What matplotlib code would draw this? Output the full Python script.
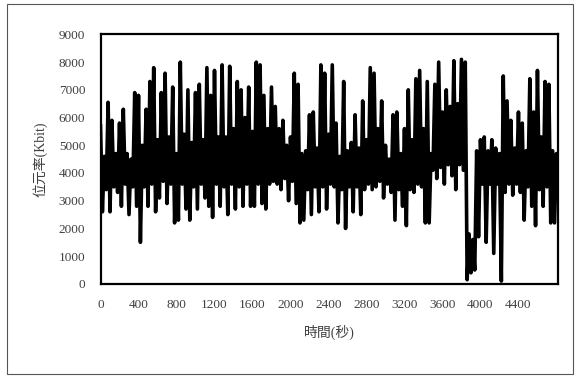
import matplotlib
matplotlib.use("Agg")
import matplotlib.pyplot as plt
import numpy as np
from matplotlib.patches import Rectangle

plt.rcParams['font.family'] = ['Liberation Serif', 'Noto Sans CJK TC']

# spacing of the envelope readings (seconds)
STEP = 40

# local maxima, one every 40 s starting at t=0
peaks = [5700, 4600, 6550, 5900, 4700, 5800, 6300, 4700, 4500, 6900,
         6800, 5000, 6300, 7300, 7800, 5200, 6900, 7600, 5300, 7100,
         4700, 8000, 5400, 7000, 5100, 6900, 7200, 5200, 7800, 6800,
         7700, 5300, 7900, 5300, 7850, 5600, 7300, 7000, 6000, 7100,
         5500, 8000, 7900, 6800, 5600, 7100, 6400, 5600, 5900, 5000,
         5300, 7600, 7200, 4700, 4800, 6100, 6200, 4900, 7900, 7600,
         5400, 7900, 5800, 4600, 7300, 4800, 5100, 6100, 4900, 6600,
         5200, 7800, 7600, 5600, 6600, 5000, 4500, 6100, 6200, 4700,
         5600, 7000, 5200, 7400, 7700, 5600, 7300, 4700, 7200, 8000,
         6200, 7000, 6400, 8050, 6500, 8100, 8000, 1800, 1600, 4800,
         5200, 5300, 4800, 5200, 4900, 4700, 7500, 6600, 5900, 4900,
         6200, 5800, 4800, 7400, 6200, 7700, 5300, 7300, 7200, 4800,
         4700]

# local minima, one every 40 s starting at t=20
troughs = [2600, 3400, 2600, 3500, 3300, 2800, 3600, 2500, 3500, 2800,
           1500, 3500, 2800, 3600, 2600, 3100, 3700, 2900, 3600, 2200,
           2300, 3600, 2700, 2300, 3500, 2700, 3600, 3100, 2800, 2400,
           3600, 2800, 3500, 2500, 3600, 2700, 3500, 2800, 3600, 2800,
           2800, 3600, 2900, 2700, 3600, 3700, 3600, 3400, 3800, 3000,
           3700, 2900, 2200, 2300, 3400, 2500, 3500, 2600, 3500, 2700,
           3600, 3500, 2200, 3400, 2000, 3500, 2600, 3500, 2500, 3400,
           3600, 3400, 3500, 3700, 3100, 3600, 3300, 2300, 3400, 2800,
           2100, 3400, 3300, 3600, 3500, 2200, 2200, 4100, 3800, 4200,
           3600, 4300, 3900, 3400, 4300, 4100, 150, 400, 500, 1700,
           3600, 1500, 3600, 1100, 3600, 100, 3300, 3600, 3200, 3600,
           3300, 2300, 3500, 2800, 2100, 3400, 2800, 3500, 2200, 2200,
           3500]

xticks = [0, 400, 800, 1200, 1600, 2000, 2400, 2800, 3200, 3600, 4000, 4400]
yticks = [0, 1000, 2000, 3000, 4000, 5000, 6000, 7000, 8000, 9000]

t_peak = np.arange(len(peaks)) * STEP
t_trough = np.arange(len(troughs)) * STEP + STEP / 2
t = np.concatenate([t_peak, t_trough])
v = np.concatenate([peaks, troughs])
order = np.argsort(t, kind='stable')
t, v = t[order], v[order]

fig = plt.figure(figsize=(5.81, 3.78), dpi=100)
ax = fig.add_axes([0.173, 0.249, 0.788, 0.66])

ax.plot(t, v, color='black', lw=2.6)

ax.set_xlim(0, t[-1])
ax.set_ylim(0, 9000)
ax.set_xticks(xticks)
ax.set_yticks(yticks)
ax.tick_params(length=0, labelsize=9.5, labelcolor='#404040', pad=11)
for s in ax.spines.values():
    s.set_linewidth(1.6)
    s.set_color('black')

ax.set_xlabel('時間(秒)', fontsize=10, color='#404040', labelpad=10)
ax.set_ylabel('位元率(Kbit)', fontsize=10, color='#404040', labelpad=8)

# chart area border
fig.patches.append(Rectangle((0.012, 0.01), 0.975, 0.98, transform=fig.transFigure,
                             fill=False, edgecolor='#555555', lw=0.8))

fig.savefig('out.png', dpi=100)
